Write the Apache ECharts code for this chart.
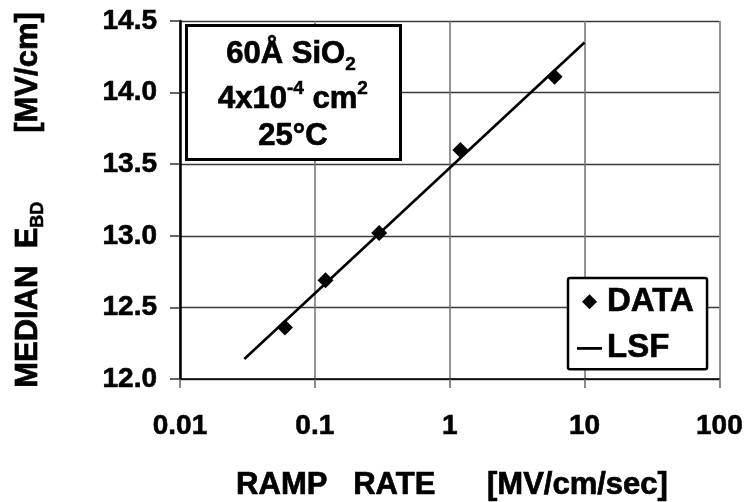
<!DOCTYPE html>
<html>
<head>
<meta charset="utf-8">
<script src="https://cdn.jsdelivr.net/npm/echarts@6/dist/echarts.min.js"></script>
<style>
html,body{margin:0;padding:0;background:#fff;}
#chart{width:746px;height:502px;}
</style>
</head>
<body>
<div id="chart"></div>
<script>
// Data
var rampRate = [0.06, 0.12, 0.3, 1.2, 6];
var medianEbd = [12.36, 12.69, 13.02, 13.60, 14.11];
var lsfRate = [0.03, 10];
var lsfEbd = [12.14, 14.35];
var xTickLabels = ['0.01', '0.1', '1', '10', '100'];
var yTickLabels = ['12.0', '12.5', '13.0', '13.5', '14.0', '14.5'];

var FONT = 'Liberation Sans, Arial, Helvetica, sans-serif';

var chart = echarts.init(document.getElementById('chart'), null, {renderer: 'canvas'});

var dataPts = rampRate.map(function (x, i) { return [x, medianEbd[i]]; });
var lsfPts = lsfRate.map(function (x, i) { return [x, lsfEbd[i]]; });

function bigTok(size) {
  return {fontFamily: FONT, fontWeight: 'bold', fontSize: size, lineHeight: 40, fill: '#000', stroke: '#000', lineWidth: 0.7};
}

var option = {
  animation: false,
  backgroundColor: '#ffffff',
  grid: {left: 180, right: 26, top: 21, bottom: 123, containLabel: false},
  xAxis: {
    type: 'log',
    logBase: 10,
    min: 0.01,
    max: 100,
    axisLine: {show: true, onZero: false, lineStyle: {color: '#000', width: 1.5}},
    axisTick: {show: true, inside: false, length: 9, lineStyle: {color: '#666', width: 1.5}},
    minorTick: {show: false},
    splitLine: {show: true, lineStyle: {color: '#707070', width: 1.5}},
    axisLabel: {
      margin: 33,
      color: '#000',
      fontFamily: FONT,
      fontWeight: 'bold',
      fontSize: 28,
      textBorderColor: '#000',
      textBorderWidth: 0.6,
      formatter: function (v) {
        var idx = Math.round(Math.log10(v)) + 2;
        return xTickLabels[idx] !== undefined ? xTickLabels[idx] : '';
      }
    }
  },
  yAxis: {
    type: 'value',
    min: 12,
    max: 14.5,
    interval: 0.5,
    axisLine: {show: true, lineStyle: {color: '#000', width: 2.5}},
    axisTick: {show: true, inside: false, length: 10, lineStyle: {color: '#333', width: 1.5}},
    splitLine: {show: true, lineStyle: {color: '#3a3a3a', width: 1.3}},
    axisLabel: {
      margin: 23,
      color: '#000',
      fontFamily: FONT,
      fontWeight: 'bold',
      fontSize: 28,
      textBorderColor: '#000',
      textBorderWidth: 0.6,
      formatter: function (v) {
        var idx = Math.round((v - 12) / 0.5);
        return yTickLabels[idx] !== undefined ? yTickLabels[idx] : '';
      }
    }
  },
  legend: {
    show: true,
    orient: 'vertical',
    left: 568,
    top: 278,
    backgroundColor: '#fff',
    borderColor: '#000',
    borderWidth: 2.5,
    borderRadius: 2,
    padding: [7, 13, 4, 9],
    itemGap: 13,
    itemWidth: 25,
    itemHeight: 16,
    textStyle: {
      color: '#000',
      fontFamily: FONT,
      fontWeight: 'bold',
      fontSize: 33,
      lineHeight: 32,
      textBorderColor: '#000',
      textBorderWidth: 0.6
    },
    data: [
      {name: 'DATA', icon: 'path://M0,0 M25,16 M12.5,0.5 L20,8 L12.5,15.5 L5,8 Z'},
      {name: 'LSF', icon: 'path://M0,0 M25,16 M0,6.6 L25,6.6 L25,9.4 L0,9.4 Z'}
    ]
  },
  series: [
    {
      name: 'LSF',
      type: 'line',
      data: lsfPts,
      showSymbol: false,
      symbol: 'none',
      lineStyle: {color: '#000', width: 2.6},
      itemStyle: {color: '#000', opacity: 1},
      z: 3
    },
    {
      name: 'DATA',
      type: 'scatter',
      data: dataPts,
      symbol: 'diamond',
      symbolSize: [16, 16],
      itemStyle: {color: '#000', opacity: 1},
      z: 4
    }
  ],
  graphic: [
    {
      type: 'rect',
      shape: {x: 186.5, y: 25.5, width: 214, height: 134},
      style: {fill: '#fff', stroke: '#000', lineWidth: 3},
      z: 10
    },
    {
      type: 'text',
      x: 291,
      y: 54,
      z: 11,
      style: {
        text: '{a|60Å SiO}{s|2}',
        align: 'center',
        verticalAlign: 'middle',
        rich: {
          a: bigTok(31),
          s: {fontFamily: FONT, fontWeight: 'bold', fontSize: 19, lineHeight: 22, verticalAlign: 'bottom', fill: '#000', stroke: '#000', lineWidth: 0.5}
        }
      }
    },
    {
      type: 'text',
      x: 293,
      y: 99,
      z: 11,
      style: {
        text: '{a|4x10}{p|-4}{a| cm}{p|2}',
        align: 'center',
        verticalAlign: 'middle',
        rich: {
          a: bigTok(31),
          p: {fontFamily: FONT, fontWeight: 'bold', fontSize: 19, lineHeight: 22, verticalAlign: 'top', fill: '#000', stroke: '#000', lineWidth: 0.5}
        }
      }
    },
    {
      type: 'text',
      x: 293,
      y: 136,
      z: 11,
      style: {
        text: '25°C',
        align: 'center',
        verticalAlign: 'middle',
        font: 'bold 31px ' + FONT,
        fill: '#000',
        stroke: '#000',
        lineWidth: 0.7
      }
    },
    {
      type: 'text',
      x: 28,
      y: 200,
      rotation: Math.PI / 2,
      z: 11,
      style: {
        text: '{a|MEDIAN  E}{s|BD}{a|        [MV/cm]}',
        align: 'center',
        verticalAlign: 'middle',
        rich: {
          a: {fontFamily: FONT, fontWeight: 'bold', fontSize: 31, lineHeight: 38, fill: '#000', stroke: '#000', lineWidth: 0.7},
          s: {fontFamily: FONT, fontWeight: 'bold', fontSize: 18, lineHeight: 24, verticalAlign: 'bottom', fill: '#000', stroke: '#000', lineWidth: 0.5}
        }
      }
    },
    {
      type: 'text',
      x: 452,
      y: 485,
      z: 11,
      style: {
        text: 'RAMP   RATE      [MV/cm/sec]',
        align: 'center',
        verticalAlign: 'middle',
        font: 'bold 31px ' + FONT,
        fill: '#000',
        stroke: '#000',
        lineWidth: 0.7
      }
    }
  ]
};

chart.setOption(option);
</script>
</body>
</html>
